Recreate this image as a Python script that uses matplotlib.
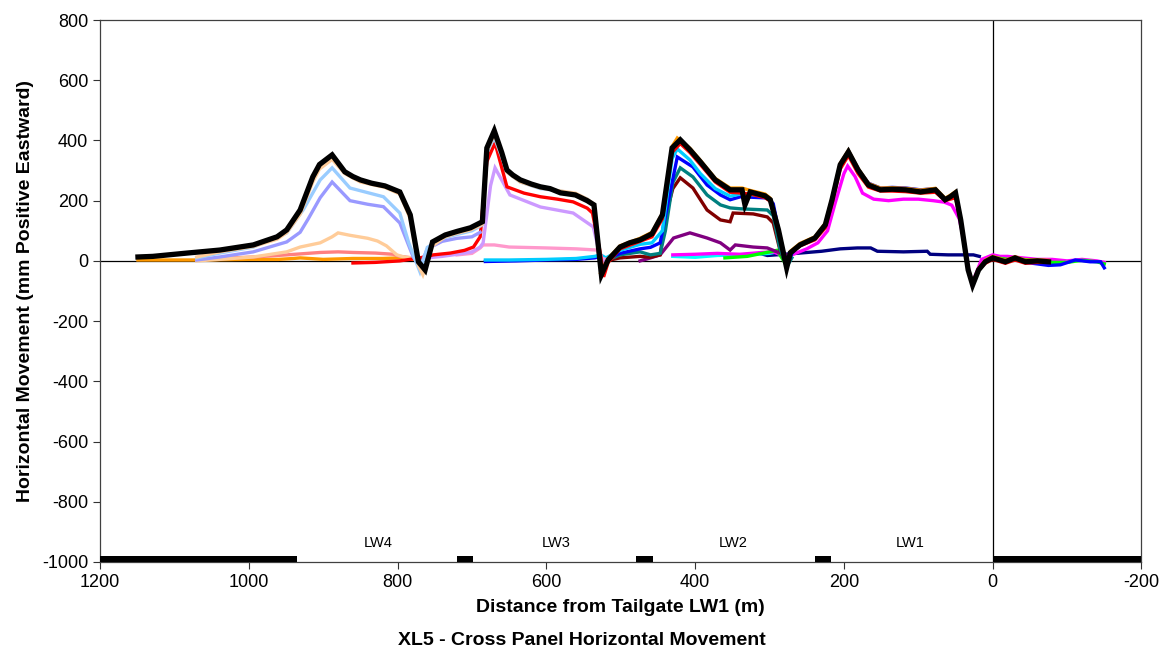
import matplotlib
matplotlib.use("Agg")
import matplotlib.pyplot as plt

plt.rcParams["font.family"] = ["Liberation Sans", "DejaVu Sans"]
plt.rcParams["axes.unicode_minus"] = False

# ---- survey data (distance from tailgate LW1 in m, movement in mm) ----
x_orange_pre = [1149, 1070, 1000, 960, 940, 931, 900, 860, 820, 797, 780, 760]
y_orange_pre = [3, 3, 5, 5, 8, 10, 5, 8, 8, 10, 5, 8]

x_salmon = [1039, 994, 949, 904, 880, 860, 830, 806, 797, 780]
y_salmon = [8, 13, 20, 28, 30, 28, 26, 22, 15, 10]

x_tan_small = [1070, 1039, 994, 949, 931, 904, 888, 880, 864, 840, 827, 815, 801, 790, 780]
y_tan_small = [0, 5, 13, 30, 46, 60, 80, 93, 85, 75, 66, 50, 20, 12, 10]

x_periwinkle = [1070, 1039, 994, 949, 931, 920, 904, 888, 864, 840, 819, 797, 779, 770, 760, 740, 720, 700, 689]
y_periwinkle = [3, 13, 30, 63, 95, 140, 210, 262, 200, 188, 180, 126, 13, -20, 40, 65, 75, 80, 95]

x_paleblue = [1070, 1039, 994, 949, 927, 904, 888, 864, 819, 797, 785, 770, 760, 740, 720, 700, 686,
              680, 670, 660, 653, 635, 608, 581, 561, 545, 536, 526]
y_paleblue = [10, 26, 46, 93, 169, 269, 309, 242, 213, 159, 60, -36, 45, 75, 88, 100, 120,
              360, 410, 345, 295, 262, 240, 232, 222, 205, 185, -40]

x_tan = [1070, 1039, 994, 962, 949, 931, 914, 905, 888, 871, 850, 817, 797, 783, 772, 766, 753, 736,
         720, 702, 686, 680, 670, 660, 653, 635, 608, 581, 561, 545, 536, 526]
y_tan = [13, 30, 48, 72, 94, 155, 262, 305, 337, 290, 262, 244, 222, 140, -15, -46, 50, 80,
         92, 103, 122, 365, 420, 350, 295, 262, 242, 232, 225, 205, 188, -40]

x_red = [860, 830, 797, 770, 752, 729, 710, 698, 689, 680, 669, 653, 630, 608, 585, 564, 545, 538,
         527, 523, 517, 501, 474, 458, 444, 431, 420, 407, 393, 373, 353, 337, 326, 306, 299, 288,
         277, 272, 259, 239, 225, 216, 205, 194, 181, 167, 151, 135, 117, 97, 77, 64, 57, 50, 43,
         33, 27, 19, 10, 0, -17, -30, -44, -60, -75]
y_red = [-7, -5, 0, 10, 20, 26, 35, 46, 80, 330, 392, 246, 225, 213, 205, 196, 175, 159,
         20, -53, -5, 40, 65, 80, 140, 360, 390, 360, 320, 262, 228, 225, 222, 210, 198, 100,
         -20, 25, 50, 70, 110, 190, 305, 350, 290, 245, 232, 232, 230, 225, 228, 200, 205, 210, 130,
         -30, -78, -30, -8, 5, -8, 3, -8, -5, -5]

x_lavender = [760, 740, 720, 700, 689, 685, 675, 669, 649, 608, 564, 537, 530, 524]
y_lavender = [10, 15, 22, 30, 46, 60, 250, 309, 219, 179, 159, 113, 40, 0]

x_pink = [720, 700, 689, 685, 670, 650, 600, 560, 532, 527, 520]
y_pink = [20, 25, 43, 53, 53, 46, 43, 40, 36, 10, 5]

x_skyblue = [682, 650, 600, 560, 535, 527, 520, 501, 474, 458, 444, 431, 424, 407, 393, 373, 353,
             339, 326, 306, 299, 288, 277]
y_skyblue = [3, 3, 5, 8, 15, 20, 10, 35, 55, 60, 100, 340, 372, 335, 290, 240, 215,
             222, 220, 215, 200, 100, -20]

x_blue = [682, 640, 600, 560, 535, 527, 520, 501, 474, 460, 447, 440, 424, 403, 384, 366, 353, 339,
          303, 295, 286, 277, 270, 259, 239, 225, 216, 205, 194, 181, 167, 151, 135, 117, 97, 77,
          64, 57, 50, 43, 33, 27, 19, 10, 0, -17, -30, -44, -60, -75, -91, -111, -131, -145, -150]
y_blue = [-2, 0, 3, 5, 10, 15, 5, 25, 40, 45, 60, 150, 345, 312, 252, 219, 203, 213,
          209, 190, 80, -20, 25, 55, 78, 122, 205, 322, 365, 305, 258, 242, 244, 242, 236, 240,
          205, 215, 225, 130, -30, -75, -30, -5, 8, -5, 8, -5, -10, -15, -13, 3, -3, -3, -23]

x_teal = [527, 520, 501, 474, 460, 447, 440, 430, 420, 403, 384, 366, 353, 339, 303, 295, 286, 277, 270]
y_teal = [10, 0, 20, 30, 20, 25, 100, 260, 309, 279, 219, 186, 176, 173, 169, 150, 40, -20, 10]

x_maroon = [520, 501, 474, 460, 447, 440, 430, 420, 403, 384, 366, 353, 349, 322, 303, 295, 286, 280]
y_maroon = [0, 10, 15, 12, 20, 146, 240, 276, 242, 169, 136, 130, 159, 156, 146, 126, 36, 0]

x_purple = [474, 460, 447, 429, 407, 384, 366, 353, 346, 322, 303, 286, 277]
y_purple = [0, 10, 20, 76, 93, 76, 60, 36, 53, 46, 43, 26, 20]

x_orange = [527, 517, 501, 474, 458, 444, 431, 424, 407, 393, 373, 353, 337, 326, 306, 299, 288,
            277, 272, 259, 239, 225, 216, 205, 194, 181, 167, 151, 135, 117, 97, 77, 64, 57, 50,
            43, 33, 27, 19, 10, 0, -17, -30, -44, -60, -75]
y_orange = [-40, 8, 50, 75, 95, 158, 380, 408, 374, 334, 274, 242, 242, 234, 222, 208, 108,
            -18, 32, 58, 80, 125, 208, 324, 367, 307, 257, 242, 243, 241, 235, 241, 208, 218, 230,
            140, -25, -75, -25, 2, 15, 2, 14, 2, 4, 2]

x_navy = [313, 303, 280, 259, 230, 205, 182, 164, 155, 120, 88, 84, 60, 26, 18]
y_navy = [25, 18, 22, 26, 32, 40, 43, 43, 32, 30, 32, 22, 20, 20, 15]

x_cyan = [430, 400, 370, 340, 320, 300, 290]
y_cyan = [15, 12, 18, 20, 22, 25, 30]

x_green = [360, 330, 310, 290, 277, 270, 259, 239, 225, 216, 205, 194, 181, 167, 151, 135, 117, 97,
           77, 64, 57, 50, 43, 33, 27, 19, 10, 0, -20, -40, -60, -80, -100, -120, -140, -150]
y_green = [10, 15, 25, 35, -15, 28, 52, 74, 118, 200, 315, 358, 300, 250, 235, 237, 235, 228,
           236, 202, 215, 224, 133, -28, -78, -28, -2, 12, 5, 5, 0, -5, -5, 2, -3, -10]

x_magenta = [430, 400, 370, 340, 310, 295, 285, 275, 265, 250, 235, 222, 212, 200, 195, 185, 175,
             160, 140, 120, 100, 80, 65, 55, 45, 38, 33, 28, 22, 15, 5, 0, -10, -20, -40, -60,
             -80, -100, -120, -140, -150]
y_magenta = [20, 22, 25, 22, 28, 30, 20, 15, 25, 40, 60, 100, 190, 290, 315, 280, 225,
             205, 200, 205, 205, 200, 195, 185, 140, 60, -20, -75, -40, 5, 15, 20, 15, 15, 10, 5,
             5, 0, 5, 0, -5]

x_black = [1149, 1129, 1083, 1039, 994, 962, 949, 931, 914, 905, 888, 871, 860, 850, 835, 817,
           797, 783, 772, 763, 753, 736, 720, 702, 686, 680, 670, 660, 653, 645, 635, 620, 608,
           595, 581, 561, 545, 536, 526, 517, 501, 488, 474, 458, 444, 431, 420, 407, 393, 373,
           353, 337, 333, 326, 306, 299, 288, 277, 272, 259, 239, 225, 216, 205, 194, 181, 167,
           151, 135, 117, 97, 77, 64, 57, 50, 43, 33, 27, 19, 10, 0, -17, -30, -44, -60, -75]
y_black = [13, 15, 26, 36, 53, 80, 103, 169, 279, 320, 352, 296, 280, 269, 258, 249,
           229, 153, -3, -30, 63, 86, 98, 110, 130, 375, 432, 360, 302, 285, 269, 255, 246,
           240, 226, 219, 200, 186, -46, 3, 46, 60, 70, 90, 153, 375, 402, 369, 329, 269,
           236, 236, 186, 229, 216, 203, 103, -23, 27, 53, 76, 120, 203, 319, 362, 302, 252,
           236, 238, 236, 229, 236, 203, 213, 226, 136, -30, -80, -30, -3, 10, -3, 10, -3, 0, -3]

# drawn back to front
series = [
    (x_orange_pre, y_orange_pre, "#FF9900", 2.4),
    (x_salmon, y_salmon, "#FF8080", 2.4),
    (x_tan_small, y_tan_small, "#FFCC99", 2.4),
    (x_navy, y_navy, "#000080", 2.4),
    (x_cyan, y_cyan, "#00FFFF", 2.4),
    (x_magenta, y_magenta, "#FF00FF", 2.4),
    (x_green, y_green, "#00FF00", 2.4),
    (x_purple, y_purple, "#800080", 2.4),
    (x_maroon, y_maroon, "#800000", 2.4),
    (x_teal, y_teal, "#008080", 2.4),
    (x_blue, y_blue, "#0000FF", 2.4),
    (x_skyblue, y_skyblue, "#00CCFF", 2.4),
    (x_orange, y_orange, "#FF9900", 2.4),
    (x_pink, y_pink, "#FF99CC", 2.4),
    (x_lavender, y_lavender, "#CC99FF", 2.4),
    (x_red, y_red, "#FF0000", 2.4),
    (x_periwinkle, y_periwinkle, "#9999FF", 2.4),
    (x_paleblue, y_paleblue, "#99CCFF", 2.4),
    (x_tan, y_tan, "#FFCC99", 2.4),
    (x_black, y_black, "#000000", 3.8),
]

# goaf / pillar markers along the bottom
pillar_starts = [1200, 720, 479, 239, 0]
pillar_widths = [265, 22, 23, 22, 200]
panel_names = ["LW4", "LW3", "LW2", "LW1"]
panel_centres = [826, 587, 349, 111]

fig = plt.figure(figsize=(11.63, 6.56), dpi=100)
ax = fig.add_axes([0.086, 0.1433, 0.8955, 0.8262])

ax.axhline(0, color="black", lw=0.9, zorder=1)
ax.axvline(0, color="black", lw=0.9, zorder=1)

for xs, ys, c, lw in series:
    ax.plot(xs, ys, color=c, lw=lw, solid_joinstyle="miter", zorder=2)

ax.broken_barh([(s - w, w) for s, w in zip(pillar_starts, pillar_widths)], (-1000, 20),
               facecolors="black", zorder=3)
for name, xc in zip(panel_names, panel_centres):
    ax.text(xc, -937, name, ha="center", va="center", fontsize=10.5)

ax.set_xlim(1200, -200)
ax.set_ylim(-1000, 800)
ax.set_xticks(range(1200, -201, -200))
ax.set_yticks(range(-1000, 801, 200))
ax.tick_params(direction="out", length=5, width=0.8, labelsize=13, colors="#333333",
               labelcolor="black")
for sp in ax.spines.values():
    sp.set_color("#404040")
    sp.set_linewidth(0.9)

ax.set_ylabel("Horizontal Movement (mm Positive Eastward)", fontsize=14, fontweight="bold",
              labelpad=6)
ax.set_xlabel("Distance from Tailgate LW1 (m)", fontsize=14, fontweight="bold", labelpad=6)
fig.text(0.5, 0.024, "XL5 - Cross Panel Horizontal Movement", ha="center", va="center",
         fontsize=14, fontweight="bold")

fig.savefig("out.png", dpi=100)
